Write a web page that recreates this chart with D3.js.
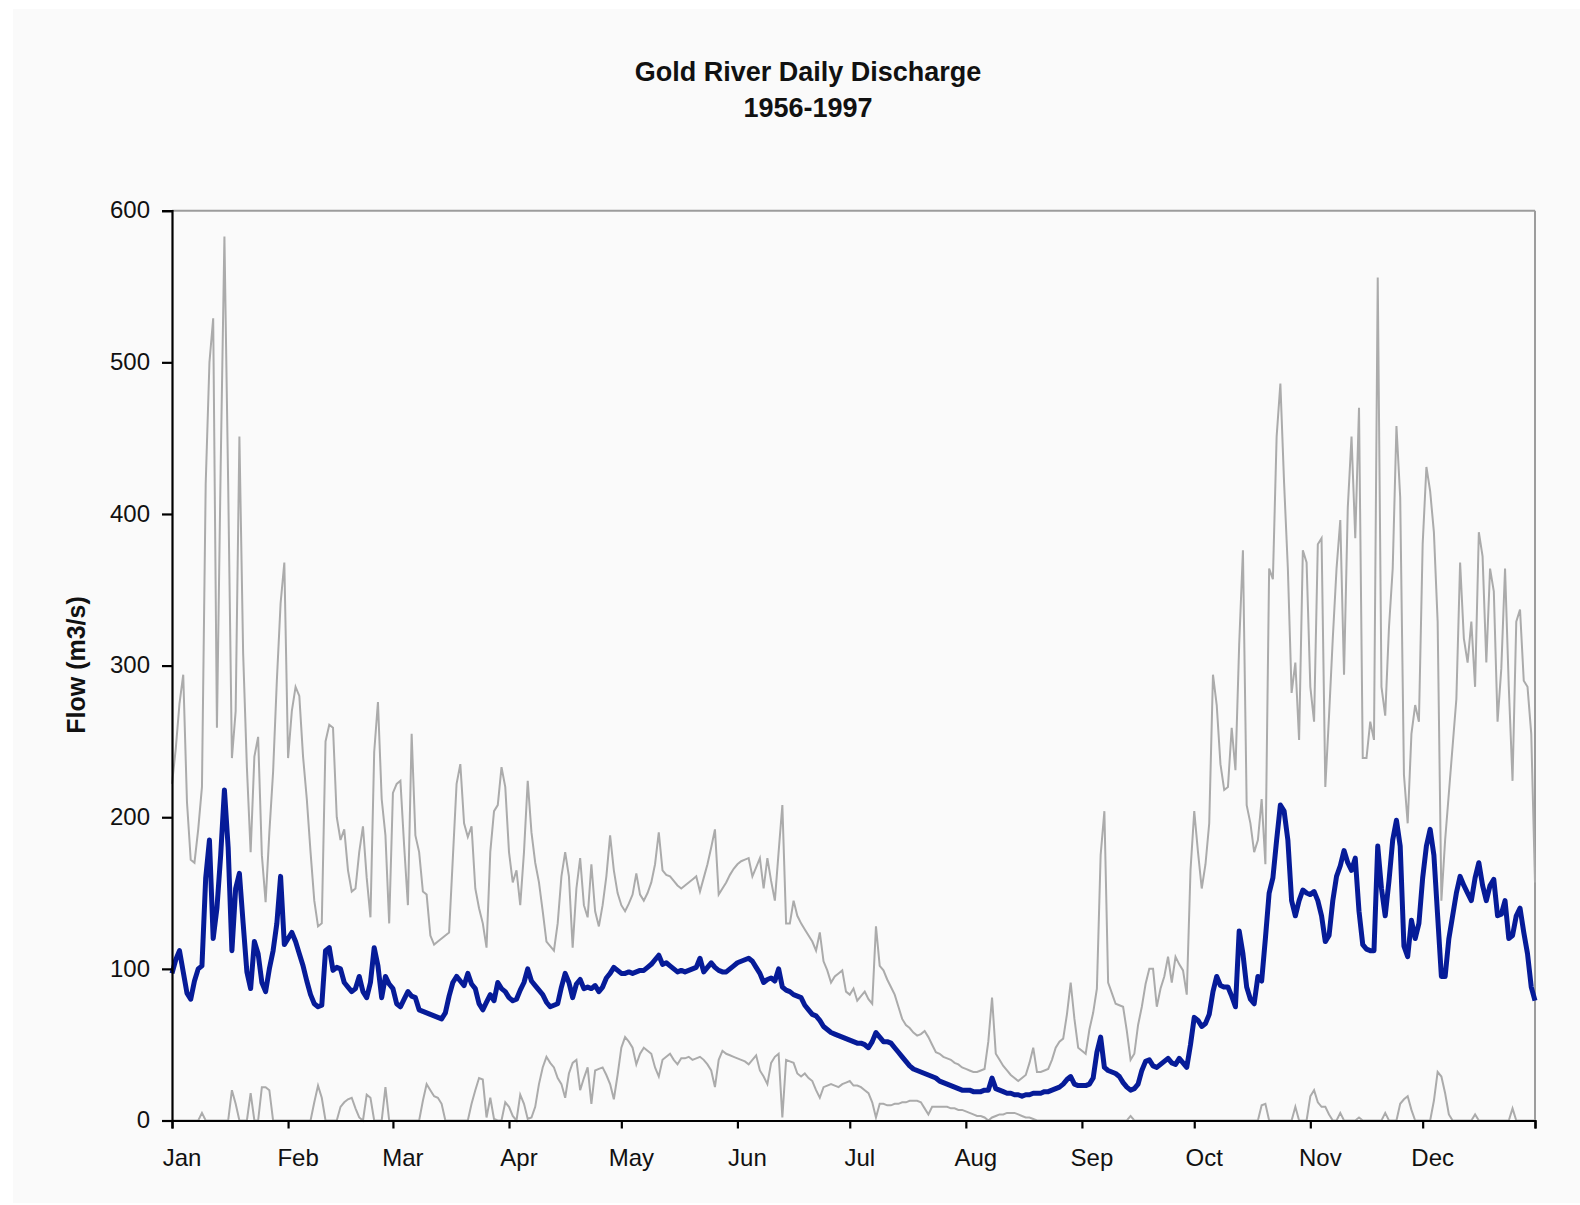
<!DOCTYPE html>
<html>
<head>
<meta charset="utf-8">
<script src="https://cdn.jsdelivr.net/npm/d3@7"></script>
<style>
  html, body { margin: 0; padding: 0; background: #ffffff; }
  svg { display: block; }
  text { font-family: "Liberation Sans", Arial, sans-serif; fill: #111; }
</style>
</head>
<body>
<svg id="chart" width="1580" height="1205"></svg>
<script>
// Daily discharge statistics, Gold River (m3/s), one value per calendar day.
const monthLabels = ["Jan","Feb","Mar","Apr","May","Jun","Jul","Aug","Sep","Oct","Nov","Dec"];
const monthStarts = [0,31,59,90,120,151,181,212,243,273,304,334];
const yTicks = [0,100,200,300,400,500,600];

const meanFlow = [
  // Jan
  97,106,112,98,84,80,92,100,102,160,185,120,140,175,218,180,112,153,163,130,98,87,118,110,91,85,100,112,130,161,116,
  // Feb
  120,124,118,110,102,92,83,77,75,76,112,114,99,101,100,91,88,85,87,95,85,81,91,114,102,81,95,90,
  // Mar
  87,77,75,80,85,82,81,73,72,71,70,69,68,67,71,82,91,95,92,89,97,90,87,77,73,78,83,79,91,87,85,
  // Apr
  81,79,80,86,91,100,92,89,86,83,78,75,76,77,88,97,91,81,90,93,87,88,87,89,85,88,94,97,101,99,
  // May
  97,97,98,97,98,99,99,101,103,106,109,103,104,102,100,98,99,98,99,100,101,107,98,101,104,101,99,98,98,100,102,
  // Jun
  104,105,106,107,105,101,97,91,93,94,92,100,88,86,85,83,82,81,76,73,70,69,66,62,60,58,57,56,55,54,
  // Jul
  53,52,51,51,50,48,52,58,55,52,52,51,48,45,42,39,36,34,33,32,31,30,29,28,26,25,24,23,22,21,20,
  // Aug
  20,20,19,19,19,20,20,28,21,20,19,18,18,17,17,16,17,17,18,18,18,19,19,20,21,22,24,27,29,24,23,
  // Sep
  23,23,24,28,45,55,35,33,32,31,29,25,22,20,21,24,33,39,40,36,35,37,39,41,38,37,41,38,35,50,
  // Oct
  68,66,62,64,70,85,95,89,88,88,82,75,125,110,88,80,77,95,92,120,150,160,185,208,204,185,145,135,145,152,150,
  // Nov
  149,151,145,135,118,122,145,161,168,178,170,165,173,138,116,113,112,112,181,153,135,158,185,198,181,115,108,132,120,130,
  // Dec
  160,181,192,175,135,95,95,120,135,150,161,155,150,145,160,170,155,145,155,159,135,136,145,120,122,135,140,124,110,88,79
];

const maxFlow = [
  // Jan
  222,245,275,294,210,172,170,192,220,420,500,529,259,431,583,420,239,270,451,308,233,177,240,253,175,144,190,230,290,341,368,
  // Feb
  239,270,286,280,240,212,177,145,128,130,250,261,259,200,185,192,165,151,153,177,194,160,134,243,276,212,188,130,
  // Mar
  216,222,224,181,142,255,188,177,151,149,122,116,118,120,122,124,173,222,235,196,187,194,153,140,130,114,177,204,208,233,220,
  // Apr
  177,157,165,142,177,224,190,170,157,138,118,115,112,130,161,177,161,114,153,173,142,134,169,138,128,142,161,188,165,150,
  // May
  142,138,143,149,163,149,145,150,157,169,190,165,162,161,158,155,153,155,157,159,161,151,160,169,180,192,149,153,157,162,166,
  // Jun
  169,171,172,173,161,167,173,153,173,158,145,177,208,130,130,145,135,130,126,122,118,112,124,105,99,91,95,97,99,85,
  // Jul
  83,87,79,82,85,80,77,128,102,99,93,88,83,75,67,63,61,58,56,57,59,55,50,45,44,42,41,40,38,37,35,
  // Aug
  34,33,32,32,33,34,52,81,44,40,36,33,30,28,26,28,30,38,48,32,32,33,34,40,48,52,54,70,91,67,48,
  // Sep
  46,44,60,71,87,175,204,91,84,77,76,75,59,40,44,63,75,90,100,100,75,87,95,108,91,108,103,99,83,165,
  // Oct
  204,177,153,169,196,294,274,235,218,220,259,231,314,376,208,196,177,185,212,169,364,357,451,486,420,364,282,302,251,376,368,
  // Nov
  286,263,380,384,220,267,318,364,396,294,404,451,384,470,239,239,263,251,556,286,267,325,364,458,411,228,196,255,274,263,
  // Dec
  380,431,415,388,329,145,185,216,247,278,368,318,302,329,286,388,372,302,364,349,263,298,364,286,224,329,337,290,286,255,157
];

const minFlow = [
  // Jan
  0,0,0,0,0,0,0,0,5,0,0,0,0,0,0,0,20,11,0,0,0,18,0,0,22,22,20,0,0,0,0,
  // Feb
  0,0,0,0,0,0,0,12,23,15,0,0,0,0,9,12,14,15,8,2,0,17,15,0,0,0,22,0,
  // Mar
  0,0,0,0,0,0,0,0,13,24,20,16,15,11,0,0,0,0,0,0,0,11,20,28,27,2,15,1,0,0,12,
  // Apr
  9,3,0,17,11,1,2,9,24,35,42,38,35,28,24,15,31,38,40,20,28,35,11,33,34,35,30,24,14,30,
  // May
  48,55,52,48,37,44,48,46,44,35,29,40,42,44,40,37,41,41,42,40,41,42,40,37,33,22,40,46,44,43,42,
  // Jun
  41,40,39,37,40,43,33,29,24,38,42,44,2,40,39,38,31,29,31,28,26,20,15,22,23,24,23,22,24,25,
  // Jul
  26,23,23,22,20,18,12,2,11,11,10,10,11,11,12,12,13,13,13,12,8,4,9,9,9,9,9,8,8,7,7,
  // Aug
  6,5,4,3,3,2,0,2,3,4,4,5,5,5,4,3,2,2,1,0,0,0,0,0,0,0,0,0,0,0,0,
  // Sep
  0,0,0,0,0,0,0,0,0,0,0,0,0,3,0,0,0,0,0,0,0,0,0,0,0,0,0,0,0,0,
  // Oct
  0,0,0,0,0,0,0,0,0,0,0,0,0,0,0,0,0,0,10,11,0,0,0,0,0,0,0,9,0,0,0,
  // Nov
  16,20,12,9,9,4,0,0,5,0,0,0,0,2,0,0,0,0,0,0,5,0,0,0,11,14,16,7,0,0,
  // Dec
  0,0,0,13,32,29,18,4,0,0,0,0,0,0,4,0,0,0,0,0,0,0,0,0,8,0,0,0,0,0,0
];

const svg = d3.select("#chart");
const W = 1580, H = 1205;
const plot = { left: 172, right: 1535, top: 210.7, bottom: 1120.5 };

// chart area background
svg.append("rect").attr("x", 0).attr("y", 0).attr("width", W).attr("height", H).attr("fill", "#ffffff");
svg.append("rect").attr("x", 13).attr("y", 9).attr("width", W - 13).attr("height", 1194).attr("fill", "#fafafa");

const nDays = meanFlow.length;
const x = d3.scaleLinear().domain([0, nDays - 1]).range([plot.left, plot.right]);
const y = d3.scaleLinear().domain([0, 600]).range([plot.bottom, plot.top]);

// plot frame: grey top and right edges
svg.append("line").attr("x1", plot.left).attr("x2", plot.right).attr("y1", plot.top).attr("y2", plot.top)
  .attr("stroke", "#9c9c9c").attr("stroke-width", 2);
svg.append("line").attr("x1", plot.right).attr("x2", plot.right).attr("y1", plot.top).attr("y2", plot.bottom)
  .attr("stroke", "#9c9c9c").attr("stroke-width", 2);

// series
const line = d3.line().x((d, i) => x(i)).y(d => y(d));
const g = svg.append("g");
g.append("path").datum(maxFlow).attr("d", line)
  .attr("fill", "none").attr("stroke", "#ababab").attr("stroke-width", 2).attr("stroke-linejoin", "miter");
g.append("path").datum(minFlow).attr("d", line)
  .attr("fill", "none").attr("stroke", "#ababab").attr("stroke-width", 2);
g.append("path").datum(meanFlow).attr("d", line)
  .attr("fill", "none").attr("stroke", "#061b98").attr("stroke-width", 5).attr("stroke-linejoin", "round");

// y axis
const yAxis = d3.axisLeft(y).tickValues(yTicks).tickSize(10).tickPadding(12).tickFormat(d3.format("d"));
const ya = svg.append("g").attr("transform", `translate(${plot.left},0)`).call(yAxis);
ya.select(".domain").attr("stroke", "#000").attr("stroke-width", 2.2);
ya.selectAll(".tick line").attr("stroke", "#000").attr("stroke-width", 2.2);
ya.selectAll(".tick text").attr("font-size", 24).attr("font-family", "Liberation Sans, Arial, sans-serif")
  .attr("fill", "#111").attr("dy", "0.3em");

// x axis: ticks at month boundaries, labels just right of each tick
const xAxis = d3.axisBottom(x).tickValues([...monthStarts, nDays - 1]).tickSize(8).tickFormat("");
const xa = svg.append("g").attr("transform", `translate(0,${plot.bottom})`).call(xAxis);
xa.select(".domain").attr("stroke", "#000").attr("stroke-width", 2.2);
xa.selectAll(".tick line").attr("stroke", "#000").attr("stroke-width", 2.2);
svg.append("g").selectAll("text").data(monthLabels).join("text")
  .attr("x", (d, i) => x(monthStarts[i]) + 10)
  .attr("y", 1166)
  .attr("text-anchor", "middle")
  .attr("font-size", 24)
  .text(d => d);

// axis title
svg.append("text")
  .attr("transform", "translate(85,665) rotate(-90)")
  .attr("text-anchor", "middle")
  .attr("font-size", 25).attr("font-weight", "bold")
  .text("Flow (m3/s)");

// chart title
svg.append("text").attr("x", 808).attr("y", 81).attr("text-anchor", "middle")
  .attr("font-size", 27).attr("font-weight", "bold").text("Gold River Daily Discharge");
svg.append("text").attr("x", 808).attr("y", 117).attr("text-anchor", "middle")
  .attr("font-size", 27).attr("font-weight", "bold").text("1956-1997");
</script>
</body>
</html>
